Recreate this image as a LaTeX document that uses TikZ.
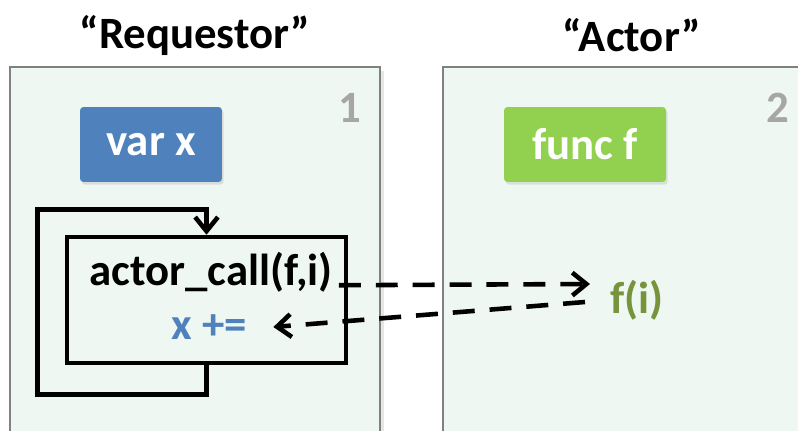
\documentclass[tikz,border=0pt]{standalone}
\usepackage{fontspec}
\setmainfont{Carlito}
\usetikzlibrary{arrows.meta,shadows}

\definecolor{panelfill}{RGB}{238,247,241}
\definecolor{panelline}{RGB}{128,128,128}
\definecolor{varblue}{RGB}{79,129,189}
\definecolor{funcgreen}{RGB}{146,208,80}
\definecolor{fgreen}{RGB}{119,147,60}
\definecolor{numgray}{RGB}{166,166,166}

\begin{document}
\begin{tikzpicture}
    [x=0.02cm, y=-0.02cm,
     every node/.style = {font=\bfseries\fontsize{25.5}{30}\selectfont},
     panel/.style = {draw=panelline, line width=1.7pt, fill=panelfill,
       drop shadow={shadow xshift=2pt, shadow yshift=-2pt, opacity=.2}},
     tag/.style = {rounded corners=2pt, text=white, minimum height=1.5cm,
       drop shadow={shadow xshift=1pt, shadow yshift=-1.5pt, opacity=.2}},
     num/.style = {text=numgray},
     loopline/.style = {line width=2.6pt, -{Straight Barb[length=8pt,width=13pt]}},
     msg/.style = {line width=2.6pt, dash pattern=on 12.5pt off 8.5pt,
       -{Straight Barb[length=8pt,width=13pt]}}]
    \useasboundingbox (0,0) rectangle (798,430);
    \clip (0,0) rectangle (798,430);
    % the two places
    \draw[panel] (10,67) rectangle (380,445);
    \draw[panel] (443,67) rectangle (815,445);
    \node (req) at (195,35) {“Requestor”};
    \node (act) at (632,35) {“Actor”};
    \node[num] (n1) at (350,108) {1};
    \node[num] (n2) at (778,108) {2};
    \node[tag, fill=varblue, minimum width=2.84cm] (varx) at (151,144.5) {var x};
    \node[tag, fill=funcgreen, minimum width=3.24cm] (funcf) at (585,144.5) {func f};
    % loop body
    \node[draw, line width=2.6pt, minimum width=5.58cm, minimum height=2.52cm] (body) at (206.5,300) {};
    \draw[loopline] (body.south) -- ++(0,29) -| ++(-169,-185) -| (body.north);
    \node (call) at (211,272) {actor\_call(f,i)};
    \node[text=varblue, inner xsep=15pt] (upd) at (209,327) {x +=};
    \node[text=fgreen] (fi) at (637,300) {f(i)};
    \coordinate (fin) at (590,284);
    \coordinate (fout) at (585,302);
    \foreach \from/ \to in {call.base east/fin, fout/upd.east}
      \draw[msg] (\from) -- (\to);
  \end{tikzpicture}
\end{document}
